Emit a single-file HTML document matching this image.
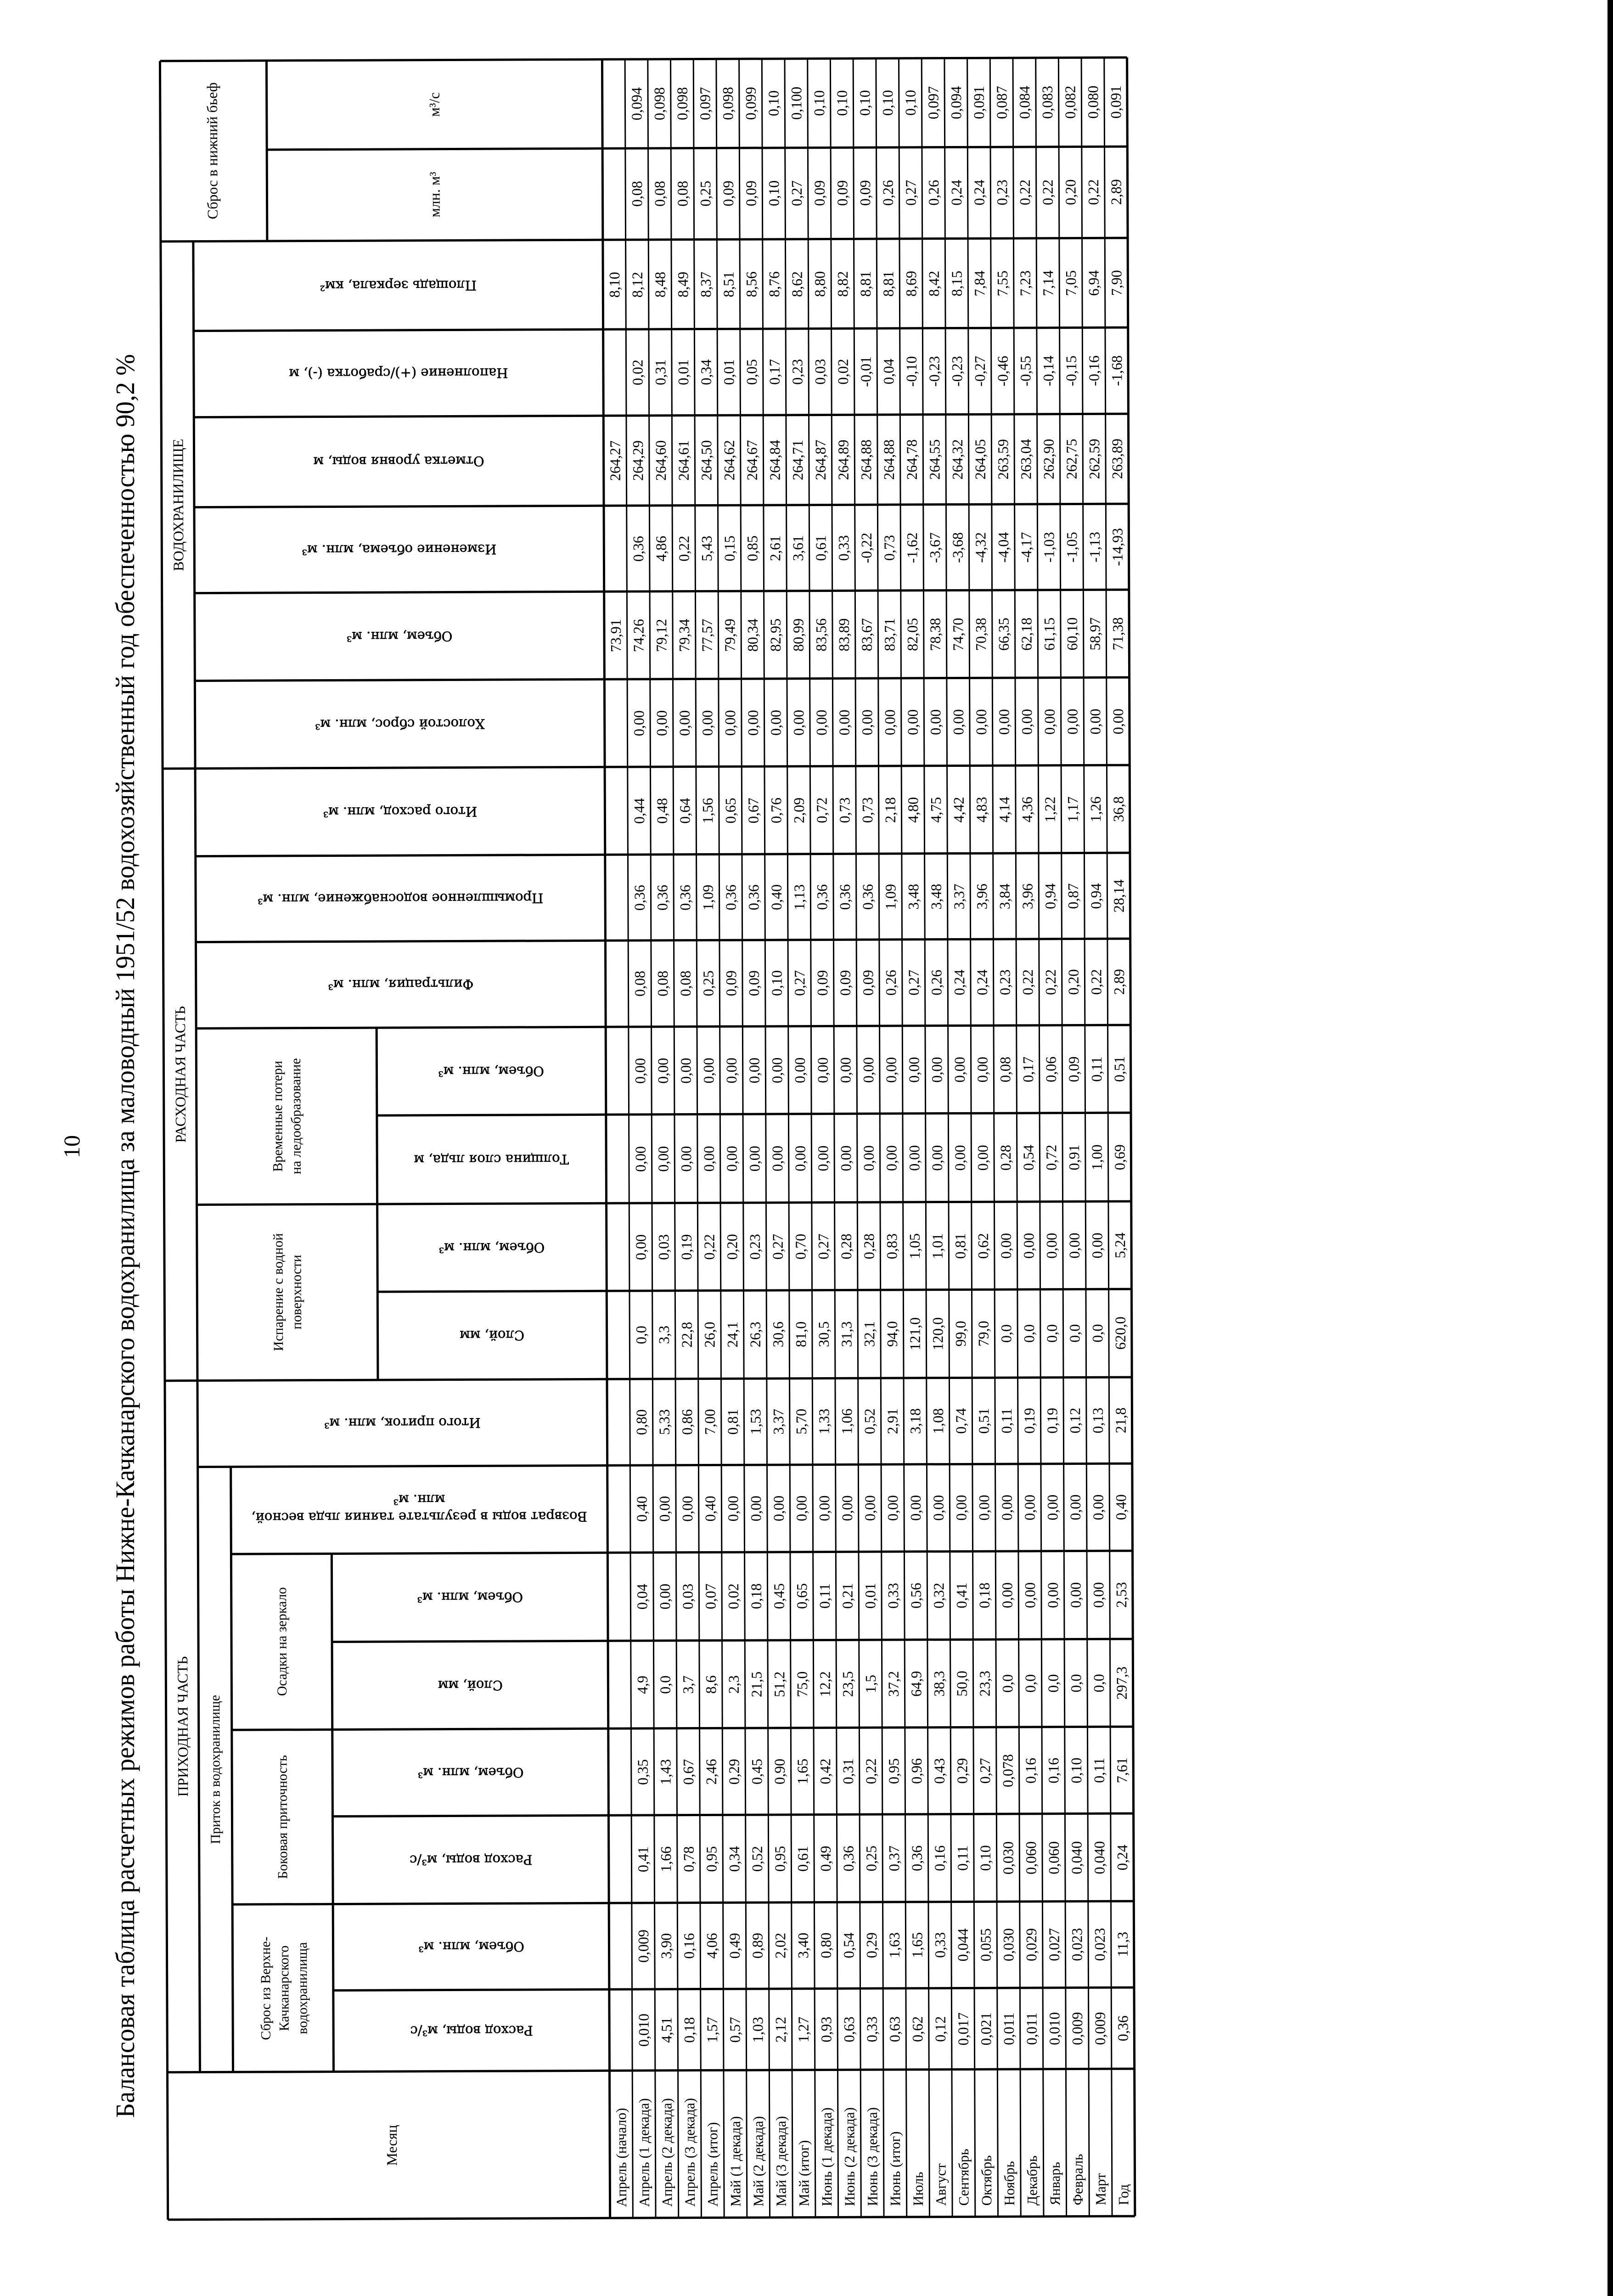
<!DOCTYPE html>
<html><head><meta charset="utf-8"><style>
html,body{margin:0;padding:0;background:#fff;width:3513px;height:5040px;overflow:hidden}
svg{display:block}
.d{font-family:"Liberation Serif",serif;font-size:32px;text-anchor:middle;dominant-baseline:central;fill:#000}
.h{font-family:"DejaVu Serif","Liberation Serif",serif;font-size:29px;text-anchor:middle;dominant-baseline:central;fill:#000;stroke:#000;stroke-width:0.6px}
.s{font-family:"Liberation Serif",serif;font-size:30px;text-anchor:middle;dominant-baseline:central;fill:#000}
.g{font-family:"Liberation Serif",serif;font-size:32px;text-anchor:middle;dominant-baseline:central;fill:#000}
.m{font-family:"Liberation Serif",serif;font-size:31px;text-anchor:start;dominant-baseline:central;fill:#000}
.t{font-family:"Liberation Serif",serif;fill:#000}
.L{stroke:#000;fill:none}
</style></head><body>
<svg width="3513" height="5040" viewBox="0 0 3513 5040" xmlns="http://www.w3.org/2000/svg">
<rect x="0" y="0" width="3513" height="5040" fill="#fff"/>
<rect x="3501" y="0" width="12" height="5040" fill="#000"/>
<rect x="1480" y="5034" width="2033" height="6" fill="#000"/>
<text class="t" font-size="50" text-anchor="middle" transform="translate(173,2497) rotate(-90)">10</text>
<text class="t" font-size="58" text-anchor="start" textLength="3841" lengthAdjust="spacingAndGlyphs" transform="translate(292,4612) rotate(-90)">Балансовая таблица расчетных режимов работы Нижне-Качканарского водохранилища за маловодный 1951/52 водохозяйственный год обеспеченностью 90,2 %</text>
<g transform="rotate(-0.21,1400,2470)">
<g class="L" stroke-width="5">
<line x1="357" y1="129" x2="357" y2="4830"/>
<line x1="357" y1="129" x2="1320" y2="129"/>
<line x1="357" y1="4830" x2="1320" y2="4830"/>
<line x1="1320" y1="129" x2="1320" y2="4830"/>
<line x1="589" y1="129" x2="589" y2="522"/>
<line x1="428" y1="522" x2="428" y2="4509"/>
<line x1="821" y1="2236" x2="821" y2="3003"/>
<line x1="500" y1="3191" x2="500" y2="4509"/>
<line x1="719" y1="3381" x2="719" y2="4509"/>
<line x1="357" y1="522" x2="1320" y2="522"/>
<line x1="589" y1="323" x2="1320" y2="323"/>
<line x1="428" y1="717" x2="1320" y2="717"/>
<line x1="428" y1="905" x2="1320" y2="905"/>
<line x1="428" y1="1101" x2="1320" y2="1101"/>
<line x1="428" y1="1288" x2="1320" y2="1288"/>
<line x1="428" y1="1479" x2="1320" y2="1479"/>
<line x1="357" y1="1670" x2="1320" y2="1670"/>
<line x1="428" y1="1861" x2="1320" y2="1861"/>
<line x1="428" y1="2048" x2="1320" y2="2048"/>
<line x1="428" y1="2236" x2="1320" y2="2236"/>
<line x1="821" y1="2427" x2="1320" y2="2427"/>
<line x1="428" y1="2620" x2="1320" y2="2620"/>
<line x1="821" y1="2811" x2="1320" y2="2811"/>
<line x1="357" y1="3003" x2="1320" y2="3003"/>
<line x1="428" y1="3191" x2="1320" y2="3191"/>
<line x1="500" y1="3381" x2="1320" y2="3381"/>
<line x1="719" y1="3573" x2="1320" y2="3573"/>
<line x1="500" y1="3764" x2="1320" y2="3764"/>
<line x1="719" y1="3953" x2="1320" y2="3953"/>
<line x1="500" y1="4144" x2="1320" y2="4144"/>
<line x1="719" y1="4332" x2="1320" y2="4332"/>
<line x1="357" y1="4509" x2="1320" y2="4509"/>
</g>
<g transform="translate(1320,0) scale(1.00811,1) translate(-1320,0)">
<g class="L" stroke-width="5">
<line x1="1320" y1="129" x2="2454" y2="129"/>
<line x1="1320" y1="4830" x2="2454" y2="4830"/>
<line x1="2454" y1="129" x2="2454" y2="4830"/>
<line x1="1320" y1="323" x2="2454" y2="323"/>
<line x1="1320" y1="522" x2="2454" y2="522"/>
<line x1="1320" y1="717" x2="2454" y2="717"/>
<line x1="1320" y1="905" x2="2454" y2="905"/>
<line x1="1320" y1="1101" x2="2454" y2="1101"/>
<line x1="1320" y1="1288" x2="2454" y2="1288"/>
<line x1="1320" y1="1479" x2="2454" y2="1479"/>
<line x1="1320" y1="1670" x2="2454" y2="1670"/>
<line x1="1320" y1="1861" x2="2454" y2="1861"/>
<line x1="1320" y1="2048" x2="2454" y2="2048"/>
<line x1="1320" y1="2236" x2="2454" y2="2236"/>
<line x1="1320" y1="2427" x2="2454" y2="2427"/>
<line x1="1320" y1="2620" x2="2454" y2="2620"/>
<line x1="1320" y1="2811" x2="2454" y2="2811"/>
<line x1="1320" y1="3003" x2="2454" y2="3003"/>
<line x1="1320" y1="3191" x2="2454" y2="3191"/>
<line x1="1320" y1="3381" x2="2454" y2="3381"/>
<line x1="1320" y1="3573" x2="2454" y2="3573"/>
<line x1="1320" y1="3764" x2="2454" y2="3764"/>
<line x1="1320" y1="3953" x2="2454" y2="3953"/>
<line x1="1320" y1="4144" x2="2454" y2="4144"/>
<line x1="1320" y1="4332" x2="2454" y2="4332"/>
<line x1="1320" y1="4509" x2="2454" y2="4509"/>
</g>
<g class="L" stroke-width="3">
<line x1="1369.3" y1="129" x2="1369.3" y2="4830"/><line x1="1418.6" y1="129" x2="1418.6" y2="4830"/><line x1="1467.9" y1="129" x2="1467.9" y2="4830"/><line x1="1517.2" y1="129" x2="1517.2" y2="4830"/><line x1="1566.5" y1="129" x2="1566.5" y2="4830"/><line x1="1615.8" y1="129" x2="1615.8" y2="4830"/><line x1="1665.1" y1="129" x2="1665.1" y2="4830"/><line x1="1714.4" y1="129" x2="1714.4" y2="4830"/><line x1="1763.7" y1="129" x2="1763.7" y2="4830"/><line x1="1813" y1="129" x2="1813" y2="4830"/><line x1="1862.3" y1="129" x2="1862.3" y2="4830"/><line x1="1911.6" y1="129" x2="1911.6" y2="4830"/><line x1="1960.9" y1="129" x2="1960.9" y2="4830"/><line x1="2010.2" y1="129" x2="2010.2" y2="4830"/><line x1="2059.5" y1="129" x2="2059.5" y2="4830"/><line x1="2108.8" y1="129" x2="2108.8" y2="4830"/><line x1="2158.1" y1="129" x2="2158.1" y2="4830"/><line x1="2207.4" y1="129" x2="2207.4" y2="4830"/><line x1="2256.7" y1="129" x2="2256.7" y2="4830"/><line x1="2306" y1="129" x2="2306" y2="4830"/><line x1="2355.3" y1="129" x2="2355.3" y2="4830"/><line x1="2404.6" y1="129" x2="2404.6" y2="4830"/>
</g>
<g class="m">
<text transform="translate(1344.7,4806) rotate(-90)">Апрель (начало)</text>
<text transform="translate(1394,4806) rotate(-90)">Апрель (1 декада)</text>
<text transform="translate(1443.3,4806) rotate(-90)">Апрель (2 декада)</text>
<text transform="translate(1492.6,4806) rotate(-90)">Апрель (3 декада)</text>
<text transform="translate(1541.9,4806) rotate(-90)">Апрель (итог)</text>
<text transform="translate(1591.2,4806) rotate(-90)">Май (1 декада)</text>
<text transform="translate(1640.5,4806) rotate(-90)">Май (2 декада)</text>
<text transform="translate(1689.8,4806) rotate(-90)">Май (3 декада)</text>
<text transform="translate(1739.1,4806) rotate(-90)">Май (итог)</text>
<text transform="translate(1788.4,4806) rotate(-90)">Июнь (1 декада)</text>
<text transform="translate(1837.7,4806) rotate(-90)">Июнь (2 декада)</text>
<text transform="translate(1887,4806) rotate(-90)">Июнь (3 декада)</text>
<text transform="translate(1936.3,4806) rotate(-90)">Июнь (итог)</text>
<text transform="translate(1985.6,4806) rotate(-90)">Июль</text>
<text transform="translate(2034.9,4806) rotate(-90)">Август</text>
<text transform="translate(2084.2,4806) rotate(-90)">Сентябрь</text>
<text transform="translate(2133.5,4806) rotate(-90)">Октябрь</text>
<text transform="translate(2182.8,4806) rotate(-90)">Ноябрь</text>
<text transform="translate(2232.1,4806) rotate(-90)">Декабрь</text>
<text transform="translate(2281.4,4806) rotate(-90)">Январь</text>
<text transform="translate(2330.7,4806) rotate(-90)">Февраль</text>
<text transform="translate(2380,4806) rotate(-90)">Март</text>
<text transform="translate(2429.3,4806) rotate(-90)">Год</text>
</g>
<g class="d">
<g transform="translate(1344.7,0)"><text transform="translate(0,620) rotate(-90)">8,10</text><text transform="translate(0,1003) rotate(-90)">264,27</text><text transform="translate(0,1384) rotate(-90)">73,91</text></g>
<g transform="translate(1394,0)"><text transform="translate(0,226) rotate(-90)">0,094</text><text transform="translate(0,422) rotate(-90)">0,08</text><text transform="translate(0,620) rotate(-90)">8,12</text><text transform="translate(0,811) rotate(-90)">0,02</text><text transform="translate(0,1003) rotate(-90)">264,29</text><text transform="translate(0,1195) rotate(-90)">0,36</text><text transform="translate(0,1384) rotate(-90)">74,26</text><text transform="translate(0,1575) rotate(-90)">0,00</text><text transform="translate(0,1766) rotate(-90)">0,44</text><text transform="translate(0,1955) rotate(-90)">0,36</text><text transform="translate(0,2142) rotate(-90)">0,08</text><text transform="translate(0,2332) rotate(-90)">0,00</text><text transform="translate(0,2524) rotate(-90)">0,00</text><text transform="translate(0,2716) rotate(-90)">0,00</text><text transform="translate(0,2907) rotate(-90)">0,0</text><text transform="translate(0,3097) rotate(-90)">0,80</text><text transform="translate(0,3286) rotate(-90)">0,40</text><text transform="translate(0,3477) rotate(-90)">0,04</text><text transform="translate(0,3669) rotate(-90)">4,9</text><text transform="translate(0,3859) rotate(-90)">0,35</text><text transform="translate(0,4049) rotate(-90)">0,41</text><text transform="translate(0,4238) rotate(-90)">0,009</text><text transform="translate(0,4421) rotate(-90)">0,010</text></g>
<g transform="translate(1443.3,0)"><text transform="translate(0,226) rotate(-90)">0,098</text><text transform="translate(0,422) rotate(-90)">0,08</text><text transform="translate(0,620) rotate(-90)">8,48</text><text transform="translate(0,811) rotate(-90)">0,31</text><text transform="translate(0,1003) rotate(-90)">264,60</text><text transform="translate(0,1195) rotate(-90)">4,86</text><text transform="translate(0,1384) rotate(-90)">79,12</text><text transform="translate(0,1575) rotate(-90)">0,00</text><text transform="translate(0,1766) rotate(-90)">0,48</text><text transform="translate(0,1955) rotate(-90)">0,36</text><text transform="translate(0,2142) rotate(-90)">0,08</text><text transform="translate(0,2332) rotate(-90)">0,00</text><text transform="translate(0,2524) rotate(-90)">0,00</text><text transform="translate(0,2716) rotate(-90)">0,03</text><text transform="translate(0,2907) rotate(-90)">3,3</text><text transform="translate(0,3097) rotate(-90)">5,33</text><text transform="translate(0,3286) rotate(-90)">0,00</text><text transform="translate(0,3477) rotate(-90)">0,00</text><text transform="translate(0,3669) rotate(-90)">0,0</text><text transform="translate(0,3859) rotate(-90)">1,43</text><text transform="translate(0,4049) rotate(-90)">1,66</text><text transform="translate(0,4238) rotate(-90)">3,90</text><text transform="translate(0,4421) rotate(-90)">4,51</text></g>
<g transform="translate(1492.6,0)"><text transform="translate(0,226) rotate(-90)">0,098</text><text transform="translate(0,422) rotate(-90)">0,08</text><text transform="translate(0,620) rotate(-90)">8,49</text><text transform="translate(0,811) rotate(-90)">0,01</text><text transform="translate(0,1003) rotate(-90)">264,61</text><text transform="translate(0,1195) rotate(-90)">0,22</text><text transform="translate(0,1384) rotate(-90)">79,34</text><text transform="translate(0,1575) rotate(-90)">0,00</text><text transform="translate(0,1766) rotate(-90)">0,64</text><text transform="translate(0,1955) rotate(-90)">0,36</text><text transform="translate(0,2142) rotate(-90)">0,08</text><text transform="translate(0,2332) rotate(-90)">0,00</text><text transform="translate(0,2524) rotate(-90)">0,00</text><text transform="translate(0,2716) rotate(-90)">0,19</text><text transform="translate(0,2907) rotate(-90)">22,8</text><text transform="translate(0,3097) rotate(-90)">0,86</text><text transform="translate(0,3286) rotate(-90)">0,00</text><text transform="translate(0,3477) rotate(-90)">0,03</text><text transform="translate(0,3669) rotate(-90)">3,7</text><text transform="translate(0,3859) rotate(-90)">0,67</text><text transform="translate(0,4049) rotate(-90)">0,78</text><text transform="translate(0,4238) rotate(-90)">0,16</text><text transform="translate(0,4421) rotate(-90)">0,18</text></g>
<g transform="translate(1541.9,0)"><text transform="translate(0,226) rotate(-90)">0,097</text><text transform="translate(0,422) rotate(-90)">0,25</text><text transform="translate(0,620) rotate(-90)">8,37</text><text transform="translate(0,811) rotate(-90)">0,34</text><text transform="translate(0,1003) rotate(-90)">264,50</text><text transform="translate(0,1195) rotate(-90)">5,43</text><text transform="translate(0,1384) rotate(-90)">77,57</text><text transform="translate(0,1575) rotate(-90)">0,00</text><text transform="translate(0,1766) rotate(-90)">1,56</text><text transform="translate(0,1955) rotate(-90)">1,09</text><text transform="translate(0,2142) rotate(-90)">0,25</text><text transform="translate(0,2332) rotate(-90)">0,00</text><text transform="translate(0,2524) rotate(-90)">0,00</text><text transform="translate(0,2716) rotate(-90)">0,22</text><text transform="translate(0,2907) rotate(-90)">26,0</text><text transform="translate(0,3097) rotate(-90)">7,00</text><text transform="translate(0,3286) rotate(-90)">0,40</text><text transform="translate(0,3477) rotate(-90)">0,07</text><text transform="translate(0,3669) rotate(-90)">8,6</text><text transform="translate(0,3859) rotate(-90)">2,46</text><text transform="translate(0,4049) rotate(-90)">0,95</text><text transform="translate(0,4238) rotate(-90)">4,06</text><text transform="translate(0,4421) rotate(-90)">1,57</text></g>
<g transform="translate(1591.2,0)"><text transform="translate(0,226) rotate(-90)">0,098</text><text transform="translate(0,422) rotate(-90)">0,09</text><text transform="translate(0,620) rotate(-90)">8,51</text><text transform="translate(0,811) rotate(-90)">0,01</text><text transform="translate(0,1003) rotate(-90)">264,62</text><text transform="translate(0,1195) rotate(-90)">0,15</text><text transform="translate(0,1384) rotate(-90)">79,49</text><text transform="translate(0,1575) rotate(-90)">0,00</text><text transform="translate(0,1766) rotate(-90)">0,65</text><text transform="translate(0,1955) rotate(-90)">0,36</text><text transform="translate(0,2142) rotate(-90)">0,09</text><text transform="translate(0,2332) rotate(-90)">0,00</text><text transform="translate(0,2524) rotate(-90)">0,00</text><text transform="translate(0,2716) rotate(-90)">0,20</text><text transform="translate(0,2907) rotate(-90)">24,1</text><text transform="translate(0,3097) rotate(-90)">0,81</text><text transform="translate(0,3286) rotate(-90)">0,00</text><text transform="translate(0,3477) rotate(-90)">0,02</text><text transform="translate(0,3669) rotate(-90)">2,3</text><text transform="translate(0,3859) rotate(-90)">0,29</text><text transform="translate(0,4049) rotate(-90)">0,34</text><text transform="translate(0,4238) rotate(-90)">0,49</text><text transform="translate(0,4421) rotate(-90)">0,57</text></g>
<g transform="translate(1640.5,0)"><text transform="translate(0,226) rotate(-90)">0,099</text><text transform="translate(0,422) rotate(-90)">0,09</text><text transform="translate(0,620) rotate(-90)">8,56</text><text transform="translate(0,811) rotate(-90)">0,05</text><text transform="translate(0,1003) rotate(-90)">264,67</text><text transform="translate(0,1195) rotate(-90)">0,85</text><text transform="translate(0,1384) rotate(-90)">80,34</text><text transform="translate(0,1575) rotate(-90)">0,00</text><text transform="translate(0,1766) rotate(-90)">0,67</text><text transform="translate(0,1955) rotate(-90)">0,36</text><text transform="translate(0,2142) rotate(-90)">0,09</text><text transform="translate(0,2332) rotate(-90)">0,00</text><text transform="translate(0,2524) rotate(-90)">0,00</text><text transform="translate(0,2716) rotate(-90)">0,23</text><text transform="translate(0,2907) rotate(-90)">26,3</text><text transform="translate(0,3097) rotate(-90)">1,53</text><text transform="translate(0,3286) rotate(-90)">0,00</text><text transform="translate(0,3477) rotate(-90)">0,18</text><text transform="translate(0,3669) rotate(-90)">21,5</text><text transform="translate(0,3859) rotate(-90)">0,45</text><text transform="translate(0,4049) rotate(-90)">0,52</text><text transform="translate(0,4238) rotate(-90)">0,89</text><text transform="translate(0,4421) rotate(-90)">1,03</text></g>
<g transform="translate(1689.8,0)"><text transform="translate(0,226) rotate(-90)">0,10</text><text transform="translate(0,422) rotate(-90)">0,10</text><text transform="translate(0,620) rotate(-90)">8,76</text><text transform="translate(0,811) rotate(-90)">0,17</text><text transform="translate(0,1003) rotate(-90)">264,84</text><text transform="translate(0,1195) rotate(-90)">2,61</text><text transform="translate(0,1384) rotate(-90)">82,95</text><text transform="translate(0,1575) rotate(-90)">0,00</text><text transform="translate(0,1766) rotate(-90)">0,76</text><text transform="translate(0,1955) rotate(-90)">0,40</text><text transform="translate(0,2142) rotate(-90)">0,10</text><text transform="translate(0,2332) rotate(-90)">0,00</text><text transform="translate(0,2524) rotate(-90)">0,00</text><text transform="translate(0,2716) rotate(-90)">0,27</text><text transform="translate(0,2907) rotate(-90)">30,6</text><text transform="translate(0,3097) rotate(-90)">3,37</text><text transform="translate(0,3286) rotate(-90)">0,00</text><text transform="translate(0,3477) rotate(-90)">0,45</text><text transform="translate(0,3669) rotate(-90)">51,2</text><text transform="translate(0,3859) rotate(-90)">0,90</text><text transform="translate(0,4049) rotate(-90)">0,95</text><text transform="translate(0,4238) rotate(-90)">2,02</text><text transform="translate(0,4421) rotate(-90)">2,12</text></g>
<g transform="translate(1739.1,0)"><text transform="translate(0,226) rotate(-90)">0,100</text><text transform="translate(0,422) rotate(-90)">0,27</text><text transform="translate(0,620) rotate(-90)">8,62</text><text transform="translate(0,811) rotate(-90)">0,23</text><text transform="translate(0,1003) rotate(-90)">264,71</text><text transform="translate(0,1195) rotate(-90)">3,61</text><text transform="translate(0,1384) rotate(-90)">80,99</text><text transform="translate(0,1575) rotate(-90)">0,00</text><text transform="translate(0,1766) rotate(-90)">2,09</text><text transform="translate(0,1955) rotate(-90)">1,13</text><text transform="translate(0,2142) rotate(-90)">0,27</text><text transform="translate(0,2332) rotate(-90)">0,00</text><text transform="translate(0,2524) rotate(-90)">0,00</text><text transform="translate(0,2716) rotate(-90)">0,70</text><text transform="translate(0,2907) rotate(-90)">81,0</text><text transform="translate(0,3097) rotate(-90)">5,70</text><text transform="translate(0,3286) rotate(-90)">0,00</text><text transform="translate(0,3477) rotate(-90)">0,65</text><text transform="translate(0,3669) rotate(-90)">75,0</text><text transform="translate(0,3859) rotate(-90)">1,65</text><text transform="translate(0,4049) rotate(-90)">0,61</text><text transform="translate(0,4238) rotate(-90)">3,40</text><text transform="translate(0,4421) rotate(-90)">1,27</text></g>
<g transform="translate(1788.4,0)"><text transform="translate(0,226) rotate(-90)">0,10</text><text transform="translate(0,422) rotate(-90)">0,09</text><text transform="translate(0,620) rotate(-90)">8,80</text><text transform="translate(0,811) rotate(-90)">0,03</text><text transform="translate(0,1003) rotate(-90)">264,87</text><text transform="translate(0,1195) rotate(-90)">0,61</text><text transform="translate(0,1384) rotate(-90)">83,56</text><text transform="translate(0,1575) rotate(-90)">0,00</text><text transform="translate(0,1766) rotate(-90)">0,72</text><text transform="translate(0,1955) rotate(-90)">0,36</text><text transform="translate(0,2142) rotate(-90)">0,09</text><text transform="translate(0,2332) rotate(-90)">0,00</text><text transform="translate(0,2524) rotate(-90)">0,00</text><text transform="translate(0,2716) rotate(-90)">0,27</text><text transform="translate(0,2907) rotate(-90)">30,5</text><text transform="translate(0,3097) rotate(-90)">1,33</text><text transform="translate(0,3286) rotate(-90)">0,00</text><text transform="translate(0,3477) rotate(-90)">0,11</text><text transform="translate(0,3669) rotate(-90)">12,2</text><text transform="translate(0,3859) rotate(-90)">0,42</text><text transform="translate(0,4049) rotate(-90)">0,49</text><text transform="translate(0,4238) rotate(-90)">0,80</text><text transform="translate(0,4421) rotate(-90)">0,93</text></g>
<g transform="translate(1837.7,0)"><text transform="translate(0,226) rotate(-90)">0,10</text><text transform="translate(0,422) rotate(-90)">0,09</text><text transform="translate(0,620) rotate(-90)">8,82</text><text transform="translate(0,811) rotate(-90)">0,02</text><text transform="translate(0,1003) rotate(-90)">264,89</text><text transform="translate(0,1195) rotate(-90)">0,33</text><text transform="translate(0,1384) rotate(-90)">83,89</text><text transform="translate(0,1575) rotate(-90)">0,00</text><text transform="translate(0,1766) rotate(-90)">0,73</text><text transform="translate(0,1955) rotate(-90)">0,36</text><text transform="translate(0,2142) rotate(-90)">0,09</text><text transform="translate(0,2332) rotate(-90)">0,00</text><text transform="translate(0,2524) rotate(-90)">0,00</text><text transform="translate(0,2716) rotate(-90)">0,28</text><text transform="translate(0,2907) rotate(-90)">31,3</text><text transform="translate(0,3097) rotate(-90)">1,06</text><text transform="translate(0,3286) rotate(-90)">0,00</text><text transform="translate(0,3477) rotate(-90)">0,21</text><text transform="translate(0,3669) rotate(-90)">23,5</text><text transform="translate(0,3859) rotate(-90)">0,31</text><text transform="translate(0,4049) rotate(-90)">0,36</text><text transform="translate(0,4238) rotate(-90)">0,54</text><text transform="translate(0,4421) rotate(-90)">0,63</text></g>
<g transform="translate(1887,0)"><text transform="translate(0,226) rotate(-90)">0,10</text><text transform="translate(0,422) rotate(-90)">0,09</text><text transform="translate(0,620) rotate(-90)">8,81</text><text transform="translate(0,811) rotate(-90)">-0,01</text><text transform="translate(0,1003) rotate(-90)">264,88</text><text transform="translate(0,1195) rotate(-90)">-0,22</text><text transform="translate(0,1384) rotate(-90)">83,67</text><text transform="translate(0,1575) rotate(-90)">0,00</text><text transform="translate(0,1766) rotate(-90)">0,73</text><text transform="translate(0,1955) rotate(-90)">0,36</text><text transform="translate(0,2142) rotate(-90)">0,09</text><text transform="translate(0,2332) rotate(-90)">0,00</text><text transform="translate(0,2524) rotate(-90)">0,00</text><text transform="translate(0,2716) rotate(-90)">0,28</text><text transform="translate(0,2907) rotate(-90)">32,1</text><text transform="translate(0,3097) rotate(-90)">0,52</text><text transform="translate(0,3286) rotate(-90)">0,00</text><text transform="translate(0,3477) rotate(-90)">0,01</text><text transform="translate(0,3669) rotate(-90)">1,5</text><text transform="translate(0,3859) rotate(-90)">0,22</text><text transform="translate(0,4049) rotate(-90)">0,25</text><text transform="translate(0,4238) rotate(-90)">0,29</text><text transform="translate(0,4421) rotate(-90)">0,33</text></g>
<g transform="translate(1936.3,0)"><text transform="translate(0,226) rotate(-90)">0,10</text><text transform="translate(0,422) rotate(-90)">0,26</text><text transform="translate(0,620) rotate(-90)">8,81</text><text transform="translate(0,811) rotate(-90)">0,04</text><text transform="translate(0,1003) rotate(-90)">264,88</text><text transform="translate(0,1195) rotate(-90)">0,73</text><text transform="translate(0,1384) rotate(-90)">83,71</text><text transform="translate(0,1575) rotate(-90)">0,00</text><text transform="translate(0,1766) rotate(-90)">2,18</text><text transform="translate(0,1955) rotate(-90)">1,09</text><text transform="translate(0,2142) rotate(-90)">0,26</text><text transform="translate(0,2332) rotate(-90)">0,00</text><text transform="translate(0,2524) rotate(-90)">0,00</text><text transform="translate(0,2716) rotate(-90)">0,83</text><text transform="translate(0,2907) rotate(-90)">94,0</text><text transform="translate(0,3097) rotate(-90)">2,91</text><text transform="translate(0,3286) rotate(-90)">0,00</text><text transform="translate(0,3477) rotate(-90)">0,33</text><text transform="translate(0,3669) rotate(-90)">37,2</text><text transform="translate(0,3859) rotate(-90)">0,95</text><text transform="translate(0,4049) rotate(-90)">0,37</text><text transform="translate(0,4238) rotate(-90)">1,63</text><text transform="translate(0,4421) rotate(-90)">0,63</text></g>
<g transform="translate(1985.6,0)"><text transform="translate(0,226) rotate(-90)">0,10</text><text transform="translate(0,422) rotate(-90)">0,27</text><text transform="translate(0,620) rotate(-90)">8,69</text><text transform="translate(0,811) rotate(-90)">-0,10</text><text transform="translate(0,1003) rotate(-90)">264,78</text><text transform="translate(0,1195) rotate(-90)">-1,62</text><text transform="translate(0,1384) rotate(-90)">82,05</text><text transform="translate(0,1575) rotate(-90)">0,00</text><text transform="translate(0,1766) rotate(-90)">4,80</text><text transform="translate(0,1955) rotate(-90)">3,48</text><text transform="translate(0,2142) rotate(-90)">0,27</text><text transform="translate(0,2332) rotate(-90)">0,00</text><text transform="translate(0,2524) rotate(-90)">0,00</text><text transform="translate(0,2716) rotate(-90)">1,05</text><text transform="translate(0,2907) rotate(-90)">121,0</text><text transform="translate(0,3097) rotate(-90)">3,18</text><text transform="translate(0,3286) rotate(-90)">0,00</text><text transform="translate(0,3477) rotate(-90)">0,56</text><text transform="translate(0,3669) rotate(-90)">64,9</text><text transform="translate(0,3859) rotate(-90)">0,96</text><text transform="translate(0,4049) rotate(-90)">0,36</text><text transform="translate(0,4238) rotate(-90)">1,65</text><text transform="translate(0,4421) rotate(-90)">0,62</text></g>
<g transform="translate(2034.9,0)"><text transform="translate(0,226) rotate(-90)">0,097</text><text transform="translate(0,422) rotate(-90)">0,26</text><text transform="translate(0,620) rotate(-90)">8,42</text><text transform="translate(0,811) rotate(-90)">-0,23</text><text transform="translate(0,1003) rotate(-90)">264,55</text><text transform="translate(0,1195) rotate(-90)">-3,67</text><text transform="translate(0,1384) rotate(-90)">78,38</text><text transform="translate(0,1575) rotate(-90)">0,00</text><text transform="translate(0,1766) rotate(-90)">4,75</text><text transform="translate(0,1955) rotate(-90)">3,48</text><text transform="translate(0,2142) rotate(-90)">0,26</text><text transform="translate(0,2332) rotate(-90)">0,00</text><text transform="translate(0,2524) rotate(-90)">0,00</text><text transform="translate(0,2716) rotate(-90)">1,01</text><text transform="translate(0,2907) rotate(-90)">120,0</text><text transform="translate(0,3097) rotate(-90)">1,08</text><text transform="translate(0,3286) rotate(-90)">0,00</text><text transform="translate(0,3477) rotate(-90)">0,32</text><text transform="translate(0,3669) rotate(-90)">38,3</text><text transform="translate(0,3859) rotate(-90)">0,43</text><text transform="translate(0,4049) rotate(-90)">0,16</text><text transform="translate(0,4238) rotate(-90)">0,33</text><text transform="translate(0,4421) rotate(-90)">0,12</text></g>
<g transform="translate(2084.2,0)"><text transform="translate(0,226) rotate(-90)">0,094</text><text transform="translate(0,422) rotate(-90)">0,24</text><text transform="translate(0,620) rotate(-90)">8,15</text><text transform="translate(0,811) rotate(-90)">-0,23</text><text transform="translate(0,1003) rotate(-90)">264,32</text><text transform="translate(0,1195) rotate(-90)">-3,68</text><text transform="translate(0,1384) rotate(-90)">74,70</text><text transform="translate(0,1575) rotate(-90)">0,00</text><text transform="translate(0,1766) rotate(-90)">4,42</text><text transform="translate(0,1955) rotate(-90)">3,37</text><text transform="translate(0,2142) rotate(-90)">0,24</text><text transform="translate(0,2332) rotate(-90)">0,00</text><text transform="translate(0,2524) rotate(-90)">0,00</text><text transform="translate(0,2716) rotate(-90)">0,81</text><text transform="translate(0,2907) rotate(-90)">99,0</text><text transform="translate(0,3097) rotate(-90)">0,74</text><text transform="translate(0,3286) rotate(-90)">0,00</text><text transform="translate(0,3477) rotate(-90)">0,41</text><text transform="translate(0,3669) rotate(-90)">50,0</text><text transform="translate(0,3859) rotate(-90)">0,29</text><text transform="translate(0,4049) rotate(-90)">0,11</text><text transform="translate(0,4238) rotate(-90)">0,044</text><text transform="translate(0,4421) rotate(-90)">0,017</text></g>
<g transform="translate(2133.5,0)"><text transform="translate(0,226) rotate(-90)">0,091</text><text transform="translate(0,422) rotate(-90)">0,24</text><text transform="translate(0,620) rotate(-90)">7,84</text><text transform="translate(0,811) rotate(-90)">-0,27</text><text transform="translate(0,1003) rotate(-90)">264,05</text><text transform="translate(0,1195) rotate(-90)">-4,32</text><text transform="translate(0,1384) rotate(-90)">70,38</text><text transform="translate(0,1575) rotate(-90)">0,00</text><text transform="translate(0,1766) rotate(-90)">4,83</text><text transform="translate(0,1955) rotate(-90)">3,96</text><text transform="translate(0,2142) rotate(-90)">0,24</text><text transform="translate(0,2332) rotate(-90)">0,00</text><text transform="translate(0,2524) rotate(-90)">0,00</text><text transform="translate(0,2716) rotate(-90)">0,62</text><text transform="translate(0,2907) rotate(-90)">79,0</text><text transform="translate(0,3097) rotate(-90)">0,51</text><text transform="translate(0,3286) rotate(-90)">0,00</text><text transform="translate(0,3477) rotate(-90)">0,18</text><text transform="translate(0,3669) rotate(-90)">23,3</text><text transform="translate(0,3859) rotate(-90)">0,27</text><text transform="translate(0,4049) rotate(-90)">0,10</text><text transform="translate(0,4238) rotate(-90)">0,055</text><text transform="translate(0,4421) rotate(-90)">0,021</text></g>
<g transform="translate(2182.8,0)"><text transform="translate(0,226) rotate(-90)">0,087</text><text transform="translate(0,422) rotate(-90)">0,23</text><text transform="translate(0,620) rotate(-90)">7,55</text><text transform="translate(0,811) rotate(-90)">-0,46</text><text transform="translate(0,1003) rotate(-90)">263,59</text><text transform="translate(0,1195) rotate(-90)">-4,04</text><text transform="translate(0,1384) rotate(-90)">66,35</text><text transform="translate(0,1575) rotate(-90)">0,00</text><text transform="translate(0,1766) rotate(-90)">4,14</text><text transform="translate(0,1955) rotate(-90)">3,84</text><text transform="translate(0,2142) rotate(-90)">0,23</text><text transform="translate(0,2332) rotate(-90)">0,08</text><text transform="translate(0,2524) rotate(-90)">0,28</text><text transform="translate(0,2716) rotate(-90)">0,00</text><text transform="translate(0,2907) rotate(-90)">0,0</text><text transform="translate(0,3097) rotate(-90)">0,11</text><text transform="translate(0,3286) rotate(-90)">0,00</text><text transform="translate(0,3477) rotate(-90)">0,00</text><text transform="translate(0,3669) rotate(-90)">0,0</text><text transform="translate(0,3859) rotate(-90)">0,078</text><text transform="translate(0,4049) rotate(-90)">0,030</text><text transform="translate(0,4238) rotate(-90)">0,030</text><text transform="translate(0,4421) rotate(-90)">0,011</text></g>
<g transform="translate(2232.1,0)"><text transform="translate(0,226) rotate(-90)">0,084</text><text transform="translate(0,422) rotate(-90)">0,22</text><text transform="translate(0,620) rotate(-90)">7,23</text><text transform="translate(0,811) rotate(-90)">-0,55</text><text transform="translate(0,1003) rotate(-90)">263,04</text><text transform="translate(0,1195) rotate(-90)">-4,17</text><text transform="translate(0,1384) rotate(-90)">62,18</text><text transform="translate(0,1575) rotate(-90)">0,00</text><text transform="translate(0,1766) rotate(-90)">4,36</text><text transform="translate(0,1955) rotate(-90)">3,96</text><text transform="translate(0,2142) rotate(-90)">0,22</text><text transform="translate(0,2332) rotate(-90)">0,17</text><text transform="translate(0,2524) rotate(-90)">0,54</text><text transform="translate(0,2716) rotate(-90)">0,00</text><text transform="translate(0,2907) rotate(-90)">0,0</text><text transform="translate(0,3097) rotate(-90)">0,19</text><text transform="translate(0,3286) rotate(-90)">0,00</text><text transform="translate(0,3477) rotate(-90)">0,00</text><text transform="translate(0,3669) rotate(-90)">0,0</text><text transform="translate(0,3859) rotate(-90)">0,16</text><text transform="translate(0,4049) rotate(-90)">0,060</text><text transform="translate(0,4238) rotate(-90)">0,029</text><text transform="translate(0,4421) rotate(-90)">0,011</text></g>
<g transform="translate(2281.4,0)"><text transform="translate(0,226) rotate(-90)">0,083</text><text transform="translate(0,422) rotate(-90)">0,22</text><text transform="translate(0,620) rotate(-90)">7,14</text><text transform="translate(0,811) rotate(-90)">-0,14</text><text transform="translate(0,1003) rotate(-90)">262,90</text><text transform="translate(0,1195) rotate(-90)">-1,03</text><text transform="translate(0,1384) rotate(-90)">61,15</text><text transform="translate(0,1575) rotate(-90)">0,00</text><text transform="translate(0,1766) rotate(-90)">1,22</text><text transform="translate(0,1955) rotate(-90)">0,94</text><text transform="translate(0,2142) rotate(-90)">0,22</text><text transform="translate(0,2332) rotate(-90)">0,06</text><text transform="translate(0,2524) rotate(-90)">0,72</text><text transform="translate(0,2716) rotate(-90)">0,00</text><text transform="translate(0,2907) rotate(-90)">0,0</text><text transform="translate(0,3097) rotate(-90)">0,19</text><text transform="translate(0,3286) rotate(-90)">0,00</text><text transform="translate(0,3477) rotate(-90)">0,00</text><text transform="translate(0,3669) rotate(-90)">0,0</text><text transform="translate(0,3859) rotate(-90)">0,16</text><text transform="translate(0,4049) rotate(-90)">0,060</text><text transform="translate(0,4238) rotate(-90)">0,027</text><text transform="translate(0,4421) rotate(-90)">0,010</text></g>
<g transform="translate(2330.7,0)"><text transform="translate(0,226) rotate(-90)">0,082</text><text transform="translate(0,422) rotate(-90)">0,20</text><text transform="translate(0,620) rotate(-90)">7,05</text><text transform="translate(0,811) rotate(-90)">-0,15</text><text transform="translate(0,1003) rotate(-90)">262,75</text><text transform="translate(0,1195) rotate(-90)">-1,05</text><text transform="translate(0,1384) rotate(-90)">60,10</text><text transform="translate(0,1575) rotate(-90)">0,00</text><text transform="translate(0,1766) rotate(-90)">1,17</text><text transform="translate(0,1955) rotate(-90)">0,87</text><text transform="translate(0,2142) rotate(-90)">0,20</text><text transform="translate(0,2332) rotate(-90)">0,09</text><text transform="translate(0,2524) rotate(-90)">0,91</text><text transform="translate(0,2716) rotate(-90)">0,00</text><text transform="translate(0,2907) rotate(-90)">0,0</text><text transform="translate(0,3097) rotate(-90)">0,12</text><text transform="translate(0,3286) rotate(-90)">0,00</text><text transform="translate(0,3477) rotate(-90)">0,00</text><text transform="translate(0,3669) rotate(-90)">0,0</text><text transform="translate(0,3859) rotate(-90)">0,10</text><text transform="translate(0,4049) rotate(-90)">0,040</text><text transform="translate(0,4238) rotate(-90)">0,023</text><text transform="translate(0,4421) rotate(-90)">0,009</text></g>
<g transform="translate(2380,0)"><text transform="translate(0,226) rotate(-90)">0,080</text><text transform="translate(0,422) rotate(-90)">0,22</text><text transform="translate(0,620) rotate(-90)">6,94</text><text transform="translate(0,811) rotate(-90)">-0,16</text><text transform="translate(0,1003) rotate(-90)">262,59</text><text transform="translate(0,1195) rotate(-90)">-1,13</text><text transform="translate(0,1384) rotate(-90)">58,97</text><text transform="translate(0,1575) rotate(-90)">0,00</text><text transform="translate(0,1766) rotate(-90)">1,26</text><text transform="translate(0,1955) rotate(-90)">0,94</text><text transform="translate(0,2142) rotate(-90)">0,22</text><text transform="translate(0,2332) rotate(-90)">0,11</text><text transform="translate(0,2524) rotate(-90)">1,00</text><text transform="translate(0,2716) rotate(-90)">0,00</text><text transform="translate(0,2907) rotate(-90)">0,0</text><text transform="translate(0,3097) rotate(-90)">0,13</text><text transform="translate(0,3286) rotate(-90)">0,00</text><text transform="translate(0,3477) rotate(-90)">0,00</text><text transform="translate(0,3669) rotate(-90)">0,0</text><text transform="translate(0,3859) rotate(-90)">0,11</text><text transform="translate(0,4049) rotate(-90)">0,040</text><text transform="translate(0,4238) rotate(-90)">0,023</text><text transform="translate(0,4421) rotate(-90)">0,009</text></g>
<g transform="translate(2429.3,0)"><text transform="translate(0,226) rotate(-90)">0,091</text><text transform="translate(0,422) rotate(-90)">2,89</text><text transform="translate(0,620) rotate(-90)">7,90</text><text transform="translate(0,811) rotate(-90)">-1,68</text><text transform="translate(0,1003) rotate(-90)">263,89</text><text transform="translate(0,1195) rotate(-90)">-14,93</text><text transform="translate(0,1384) rotate(-90)">71,38</text><text transform="translate(0,1575) rotate(-90)">0,00</text><text transform="translate(0,1766) rotate(-90)">36,8</text><text transform="translate(0,1955) rotate(-90)">28,14</text><text transform="translate(0,2142) rotate(-90)">2,89</text><text transform="translate(0,2332) rotate(-90)">0,51</text><text transform="translate(0,2524) rotate(-90)">0,69</text><text transform="translate(0,2716) rotate(-90)">5,24</text><text transform="translate(0,2907) rotate(-90)">620,0</text><text transform="translate(0,3097) rotate(-90)">21,8</text><text transform="translate(0,3286) rotate(-90)">0,40</text><text transform="translate(0,3477) rotate(-90)">2,53</text><text transform="translate(0,3669) rotate(-90)">297,3</text><text transform="translate(0,3859) rotate(-90)">7,61</text><text transform="translate(0,4049) rotate(-90)">0,24</text><text transform="translate(0,4238) rotate(-90)">11,3</text><text transform="translate(0,4421) rotate(-90)">0,36</text></g>
</g>
</g>
<text class="g" transform="translate(470,325) rotate(-90)">Сброс в нижний бьеф</text>
<text class="g" transform="translate(954,226) rotate(-90)">м³/с</text>
<text class="g" transform="translate(954,422) rotate(-90)">млн. м³</text>
<text class="g" transform="translate(393,1096) rotate(-90)">ВОДОХРАНИЛИЩЕ</text>
<text class="g" transform="translate(393,2336) rotate(-90)">РАСХОДНАЯ ЧАСТЬ</text>
<text class="g" transform="translate(393,3756) rotate(-90)">ПРИХОДНАЯ ЧАСТЬ</text>
<text class="s" transform="translate(464,3850) rotate(-90)">Приток в водохранилище</text>
<text class="s" transform="translate(605,2428) rotate(-90)">Временные потери</text>
<text class="s" transform="translate(645,2428) rotate(-90)">на ледообразование</text>
<text class="s" transform="translate(605,2811) rotate(-90)">Испарение с водной</text>
<text class="s" transform="translate(645,2811) rotate(-90)">поверхности</text>
<text class="s" transform="translate(610,3572) rotate(-90)">Осадки на зеркало</text>
<text class="s" transform="translate(610,3954) rotate(-90)">Боковая приточность</text>
<text class="s" transform="translate(572,4327) rotate(-90)">Сброс из Верхне-</text>
<text class="s" transform="translate(612,4327) rotate(-90)">Качканарского</text>
<text class="s" transform="translate(652,4327) rotate(-90)">водохранилища</text>
<text class="g" transform="translate(845,4670) rotate(-90)">Месяц</text>
<g class="h">
<text transform="translate(874,620) rotate(180)">Площадь зеркала, км²</text>
<text transform="translate(874,811) rotate(180)">Наполнение (+)/сработка (-), м</text>
<text transform="translate(874,1003) rotate(180)">Отметка уровня воды, м</text>
<text transform="translate(874,1195) rotate(180)">Изменение объема, млн. м³</text>
<text transform="translate(874,1384) rotate(180)">Объем, млн. м³</text>
<text transform="translate(874,1575) rotate(180)">Холостой сброс, млн. м³</text>
<text transform="translate(874,1766) rotate(180)">Итого расход, млн. м³</text>
<text transform="translate(874,1955) rotate(180)">Промышленное водоснабжение, млн. м³</text>
<text transform="translate(874,2142) rotate(180)">Фильтрация, млн. м³</text>
<text transform="translate(1070,2332) rotate(180)">Объем, млн. м³</text>
<text transform="translate(1070,2524) rotate(180)">Толщина слоя льда, м</text>
<text transform="translate(1070,2716) rotate(180)">Объем, млн. м³</text>
<text transform="translate(1070,2907) rotate(180)">Слой, мм</text>
<text transform="translate(874,3097) rotate(180)">Итого приток, млн. м³</text>
<text transform="translate(910,3302) rotate(180)">Возврат воды в результате таяния льда весной,</text>
<text transform="translate(910,3264) rotate(180)">млн. м³</text>
<text transform="translate(1020,3477) rotate(180)">Объем, млн. м³</text>
<text transform="translate(1020,3669) rotate(180)">Слой, мм</text>
<text transform="translate(1020,3859) rotate(180)">Объем, млн. м³</text>
<text transform="translate(1020,4049) rotate(180)">Расход воды, м³/с</text>
<text transform="translate(1020,4238) rotate(180)">Объем, млн. м³</text>
<text transform="translate(1020,4421) rotate(180)">Расход воды, м³/с</text>
</g>
</g>
</svg>
</body></html>
